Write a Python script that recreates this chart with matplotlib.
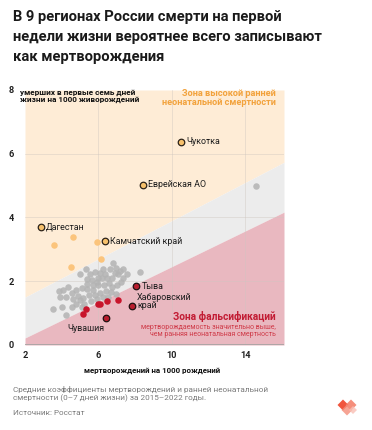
import matplotlib
matplotlib.use("Agg")
import matplotlib.pyplot as plt
import numpy as np
from matplotlib.patches import Polygon

plt.rcParams['font.family'] = ['Roboto', 'DejaVu Sans']

# ---- data ----
gray_x = [3.54, 3.99, 4.54, 4.21, 3.87, 4.08, 4.36, 3.90, 4.23, 4.63, 4.99, 4.77, 5.17,
          5.32, 5.80, 5.39, 5.66, 5.93, 6.17, 6.47, 6.80, 6.98, 6.89, 6.71, 7.07, 7.31,
          7.53, 8.25, 5.08, 5.39, 5.68, 5.99, 6.29, 6.58, 6.76, 7.02, 7.20, 5.50, 5.80,
          6.11, 6.40, 6.66, 6.95, 5.21, 5.62, 5.93, 6.26, 6.53, 4.99, 5.53, 6.08, 6.35,
          6.62, 5.35, 4.77, 4.54, 6.26, 5.99, 5.71, 4.90, 5.08, 7.16, 7.34, 14.55]
gray_y = [1.13, 1.19, 1.19, 0.95, 1.69, 1.74, 1.82, 1.51, 1.51, 1.45, 1.40, 1.30, 1.48,
          2.37, 2.29, 2.08, 2.04, 1.97, 2.11, 2.11, 2.58, 2.43, 2.27, 2.09, 2.22, 2.11,
          2.22, 2.29, 1.79, 1.76, 1.72, 1.87, 1.87, 1.93, 1.82, 1.89, 1.99, 1.58, 1.58,
          1.64, 1.68, 1.66, 1.61, 1.30, 1.37, 1.45, 1.51, 1.51, 2.22, 2.22, 2.27, 2.22,
          2.37, 1.90, 1.74, 1.64, 2.39, 2.11, 1.87, 1.55, 1.19, 2.32, 2.37, 4.99]

orange_x = [3.58, 4.63, 5.90, 4.50, 6.15]
orange_y = [3.14, 3.39, 3.24, 2.46, 2.71]

red_x = [7.07, 6.44, 6.08, 5.95, 5.32, 5.17]
red_y = [1.42, 1.37, 1.30, 1.30, 1.13, 0.96]

hi_names = ['Дагестан', 'Камчатский край', 'Чукотка', 'Еврейская АО']
hi_x = [2.85, 6.35, 10.5, 8.4]
hi_y = [3.71, 3.25, 6.38, 5.03]

fals_names = ['Тыва', 'Хабаровский\nкрай', 'Чувашия']
fals_x = [8.07, 7.80, 6.40]
fals_y = [1.85, 1.23, 0.86]

x_ticks = [2, 6, 10, 14]
y_ticks = [0, 2, 4, 6, 8]

# ---- figure ----
W, H = 372, 430
fig = plt.figure(figsize=(W / 100, H / 100), dpi=100)
fig.patch.set_facecolor('white')

ax = fig.add_axes([25 / W, 1 - 345 / H, (284 - 25) / W, (345 - 90) / H])
xmin, xmax = 2, 16.1
ax.set_xlim(xmin, xmax)
ax.set_ylim(0, 8)

xs = np.array([xmin, xmax])
upper = 1.5 + 0.3 * (xs - 2)
lower = 0.22 + 0.28 * (xs - 2)
ax.fill_between(xs, upper, 8, color='#feecd6', lw=0, zorder=0)
ax.fill_between(xs, lower, upper, color='#ececec', lw=0, zorder=0)
ax.fill_between(xs, 0, lower, color='#e9b8c0', lw=0, zorder=0)

for xv in x_ticks[1:]:
    ax.axvline(xv, color='#cfc6c0', lw=0.5, alpha=0.6, zorder=1)
for yv in y_ticks[1:-1]:
    ax.axhline(yv, color='#cfc6c0', lw=0.5, alpha=0.6, zorder=1)
ax.axhline(0, color='#a9a3a3', lw=2, zorder=2)

for s in ax.spines.values():
    s.set_visible(False)
ax.set_xticks(x_ticks)
ax.set_yticks(y_ticks)
ax.tick_params(length=0, labelsize=6.6, colors='#222222', pad=4)
for lab in ax.get_xticklabels() + ax.get_yticklabels():
    lab.set_fontweight('bold')
ax.tick_params(axis='y', pad=8)

ms = 22
ax.scatter(gray_x, gray_y, s=ms, color='#b3b3b3', alpha=0.85, lw=0, zorder=3)
ax.scatter(orange_x, orange_y, s=ms, color='#fbc47c', lw=0, zorder=3)
ax.scatter(red_x, red_y, s=ms, color='#c8152c', lw=0, zorder=3)
ax.scatter(hi_x, hi_y, s=ms, color='#f7c16c', edgecolor='#2b2118', lw=0.9, zorder=4)
ax.scatter(fals_x, fals_y, s=ms, color='#b81d2e', edgecolor='#1e1010', lw=0.9, zorder=4)

lab_fs = 6.4
for n, x, y in zip(hi_names, hi_x, hi_y):
    ax.annotate(n, (x, y), xytext=(4, 0), textcoords='offset points',
                ha='left', va='center', fontsize=lab_fs, color='#1d1d1d', zorder=5)
ax.annotate(fals_names[0], (fals_x[0], fals_y[0]), xytext=(4, 0), textcoords='offset points',
            ha='left', va='center', fontsize=lab_fs, color='#1d1d1d', zorder=5)
ax.annotate(fals_names[1], (fals_x[1], fals_y[1]), xytext=(4, 3), textcoords='offset points',
            ha='left', va='center', fontsize=lab_fs, color='#1d1d1d', zorder=5,
            linespacing=0.95)
ax.annotate(fals_names[2], (fals_x[2], fals_y[2]), xytext=(-1, -8), textcoords='offset points',
            ha='right', va='center', fontsize=lab_fs, color='#1d1d1d', zorder=5)

# zone texts
fig.text(276 / W, 1 - 98 / H, 'Зона высокой ранней\nнеонатальной смертности',
         ha='right', va='center', fontsize=6.6, fontweight='bold', color='#f2a23c',
         linespacing=1.1)
fig.text(276 / W, 1 - 316 / H, 'Зона фальсификаций', ha='right', va='center',
         fontsize=7.3, fontweight='bold', color='#c21c34')
fig.text(276 / W, 1 - 331 / H,
         'мертворождаемость значительно выше,\nчем ранняя неонатальная смертность',
         ha='right', va='center', fontsize=5.0, color='#cf3a48', linespacing=1.15)

# axis labels
fig.text(20 / W, 1 - 96 / H, 'умерших в первые семь дней\nжизни на 1000 живорождений',
         ha='left', va='center', fontsize=5.9, fontweight='bold', color='#111111',
         linespacing=1.0)
fig.text(152 / W, 1 - 370 / H, 'мертворождений на 1000 рождений', ha='center',
         va='center', fontsize=5.7, fontweight='bold', color='#111111')

# title
fig.text(13 / W, 1 - 37 / H,
         'В 9 регионах России смерти на первой\nнедели жизни вероятнее всего записывают\nкак мертворождения',
         ha='left', va='center', fontsize=10.6, fontweight='bold', color='#1a1a1a',
         linespacing=1.5)

# footer
fig.text(13 / W, 1 - 394 / H,
         'Средние коэффициенты мертворождений и ранней неонатальной\nсмертности (0–7 дней жизни) за 2015–2022 годы.',
         ha='left', va='center', fontsize=5.9, color='#7a7a7a', linespacing=1.1)
fig.text(13 / W, 1 - 413 / H, 'Источник: Росстат', ha='left', va='center',
         fontsize=5.9, color='#7a7a7a')

# logo
def diamond(cx, cy, r, color, alpha=1.0):
    pts = [(cx, cy + r), (cx + r, cy), (cx, cy - r), (cx - r, cy)]
    pts = [(px / W, 1 - py / H) for px, py in pts]
    fig.patches.append(Polygon(pts, closed=True, transform=fig.transFigure,
                               facecolor=color, edgecolor='none', alpha=alpha))

diamond(343, 405, 5.5, '#f0553d')
diamond(351, 405, 5.5, '#f47a64', 0.85)
diamond(347, 410, 5.5, '#f48e7a', 0.8)
diamond(353, 410, 4, '#f9c0b5', 0.8)

fig.savefig('out.png', dpi=100, facecolor='white')
